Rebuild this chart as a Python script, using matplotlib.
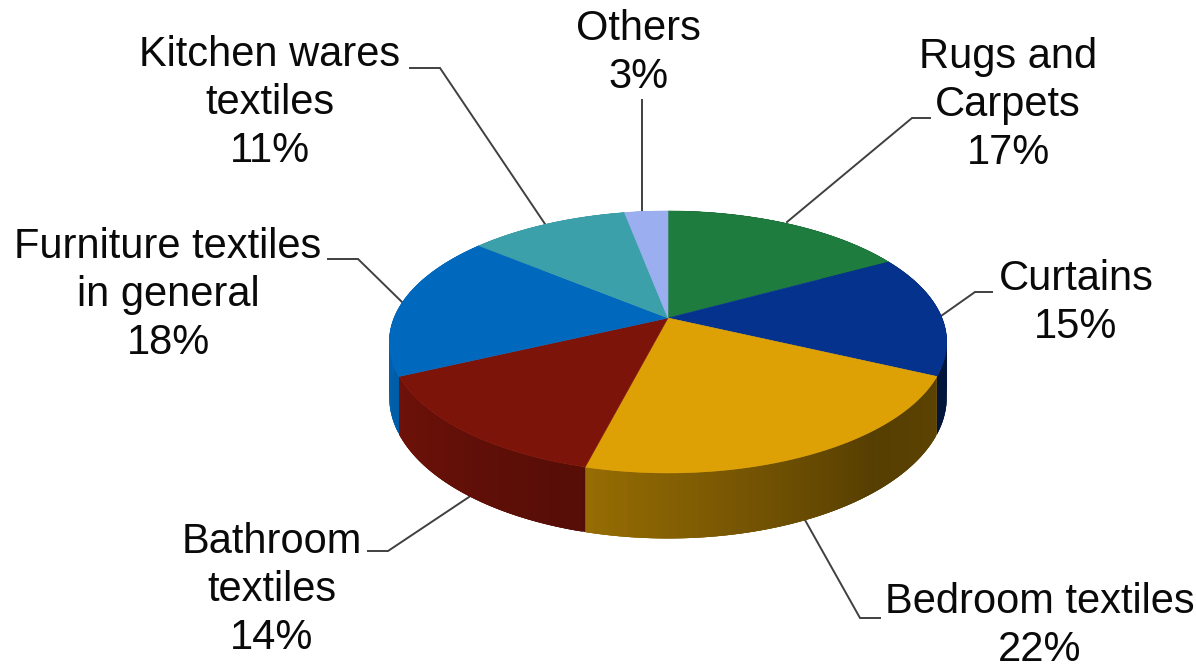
import numpy as np
import matplotlib
matplotlib.use("Agg")
import matplotlib.pyplot as plt
from matplotlib.patches import Polygon

categories = ["Rugs and\nCarpets", "Curtains", "Bedroom textiles", "Bathroom\ntextiles",
              "Furniture textiles\nin general", "Kitchen wares\ntextiles", "Others"]
values = [17, 15, 22, 14, 18, 11, 3]
colors = ["#1E7D3E", "#05328C", "#DDA005", "#7D140A", "#0069BE", "#3CA0AA", "#9BAFF0"]

# layout of each label (block centre, px) and its leader line (px)
label_pos = [(1008, 105), (1076, 303), (1040, 626), (272, 590), (168, 295), (270, 103), (638, 53)]
leaders = [[(930, 118), (912, 118), (787, 222)],
           [(992, 292), (975, 292), (941, 316)],
           [(880, 618), (860, 618), (805, 520)],
           [(368, 551), (388, 551), (472, 495)],
           [(328, 259), (358, 259), (403, 303)],
           [(410, 68), (440, 68), (545, 224)],
           [(642, 100), (642, 212)]]

# perspective of the tilted pie
CX, CY, R, PERSP, TILT, DEPTH = 668, 318, 274, 0.183, -68.4, 53.5
shade_angle = [0, 90, 140, 194, 245, 280, 360]
shade_level = [0.45, 0.45, 0.39, 0.68, 0.88, 0.95, 0.95]


def project(theta_deg, radius=1.0, drop=0.0):
    t = np.radians(theta_deg)
    v = radius * np.cos(t)
    d = 1 + PERSP * v
    return CX + R * radius * np.sin(t) / d, (TILT * v + CY + drop) / d


fig = plt.figure(figsize=(11.96, 6.68), dpi=100)
ax = fig.add_axes([0, 0, 1, 1])
ax.set_xlim(0, 1196)
ax.set_ylim(668, 0)
ax.axis("off")

edges = np.concatenate([[0], np.cumsum(values)]) / sum(values) * 360

# side wall: overlapping strips, each slice painted in sweep order to avoid seams
for i, col in enumerate(colors):
    rgb = np.array(matplotlib.colors.to_rgb(col))
    ths = np.arange(edges[i], edges[i + 1] + 1e-6, 0.5)
    if ths[-1] < edges[i + 1]:
        ths = np.append(ths, edges[i + 1])
    for a, b in zip(ths[:-1], ths[1:]):
        c = rgb * np.interp((a + b) / 2, shade_angle, shade_level)
        end = min(b + 1.0, edges[i + 1])
        arc = np.linspace(a, end, 4)
        x0, y0 = project(arc)
        x1, y1 = project(arc, drop=DEPTH)
        pts = list(zip(x0, y0)) + list(zip(x1[::-1], y1[::-1]))
        ax.add_patch(Polygon(pts, closed=True, facecolor=c, edgecolor="none", zorder=2 + 0.0001 * i))

# top face
for i, col in enumerate(colors):
    ths = np.linspace(edges[i], edges[i + 1], 80)
    x, y = project(ths)
    pts = [(CX, CY)] + list(zip(x, y))
    ax.add_patch(Polygon(pts, closed=True, facecolor=col, edgecolor=col, lw=0.4, zorder=3))

for line in leaders:
    xs, ys = zip(*line)
    ax.plot(xs, ys, color="#404040", lw=1.4, zorder=1, solid_joinstyle="miter")

for name, val, (x, y) in zip(categories, values, label_pos):
    ax.text(x, y, f"{name}\n{val}%", ha="center", va="center", ma="center",
            fontsize=30, family="Liberation Sans", color="#0A0A0A", linespacing=1.25, zorder=5)

fig.savefig("out.png", dpi=100, facecolor="white")
